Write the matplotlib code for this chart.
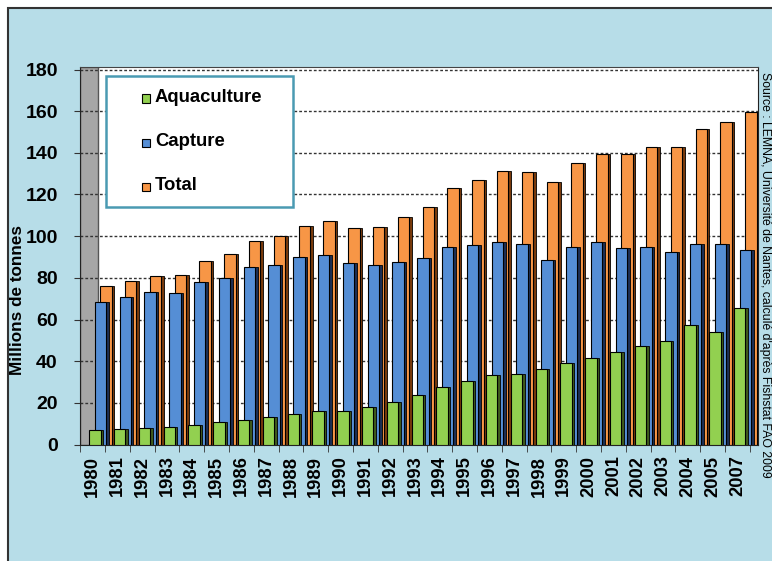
import matplotlib.pyplot as plt
from matplotlib.patches import Rectangle
import numpy as np

plt.rcParams['font.family'] = ['Liberation Sans', 'DejaVu Sans']

# Production mondiale (millions de tonnes)
annees = ['1980', '1981', '1982', '1983', '1984', '1985', '1986', '1987', '1988',
          '1989', '1990', '1991', '1992', '1993', '1994', '1995', '1996', '1997',
          '1998', '1999', '2000', '2001', '2002', '2003', '2004', '2005', '2007']
aquaculture = [7.0, 7.5, 7.8, 8.6, 9.4, 10.6, 11.7, 13.0, 14.7, 16.0, 16.3, 17.8,
               20.5, 24.0, 27.5, 30.7, 33.4, 33.8, 36.2, 39.2, 41.4, 44.2, 47.2,
               49.8, 57.4, 54.2, 65.4]
capture = [68.5, 70.9, 73.0, 72.5, 78.1, 80.0, 85.3, 86.2, 89.9, 90.9, 87.2, 86.1,
           87.7, 89.4, 95.0, 95.7, 97.1, 96.3, 88.8, 95.0, 97.1, 94.4, 94.6, 92.3,
           96.2, 96.2, 93.6]
total = [76.0, 78.7, 81.1, 81.6, 88.2, 91.4, 97.9, 100.3, 105.1, 107.2, 103.8, 104.2,
         109.0, 113.8, 123.0, 127.2, 131.2, 130.7, 125.8, 135.2, 139.4, 139.4, 142.6,
         142.9, 151.5, 154.9, 159.8]
yticks = [0, 20, 40, 60, 80, 100, 120, 140, 160, 180]

W, H = 772, 561
FOND = '#b7dde8'


def fx(px):
    return px / W


def fy(py):
    return 1 - py / H


fig = plt.figure(figsize=(W / 100, H / 100), dpi=100, facecolor='white')

# cadre bleu clair
fig.patches.append(Rectangle((fx(8), fy(H + 5)), fx(W), fy(8) - fy(H + 5),
                             transform=fig.transFigure, facecolor=FOND,
                             edgecolor='#333333', linewidth=1.5, zorder=-10))

ax = fig.add_axes([fx(80), fy(444.5), fx(758) - fx(80), fy(67) - fy(444.5)])
ax.set_facecolor('white')
ax.set_xlim(-0.827, 26.51)
ax.set_ylim(0, 181.2)

x = np.arange(len(annees))

# mur gauche gris
ax.add_patch(Rectangle((-0.827, 0), 0.706, 181.2, facecolor='#a6a6a6',
                       edgecolor='#555555', linewidth=1, zorder=1))

for v in yticks[1:]:
    ax.axhline(v, color='#333333', linewidth=1, linestyle=(0, (2, 1.5)), zorder=1.5)

largeur = 0.46
cote = 0.1
series = [
    (total, 0.22, '#f79646', '#7a3b0c', 'Total'),
    (capture, 0.0, '#558ed5', '#1c2f55', 'Capture'),
    (aquaculture, -0.23, '#92d050', '#3f5a1c', 'Aquaculture'),
]
z = 2
for valeurs, dx, couleur, sombre, nom in series:
    centres = x + dx
    ax.bar(centres + largeur / 2 + cote / 2, valeurs, width=cote, color=sombre,
           edgecolor='black', linewidth=0.6, zorder=z)
    ax.bar(centres, valeurs, width=largeur, color=couleur,
           edgecolor='black', linewidth=0.8, zorder=z + 0.5)
    z += 1

ax.set_yticks(yticks)
ax.set_yticklabels([str(v) for v in yticks], fontsize=14, fontweight='bold')
ax.tick_params(axis='y', direction='out', length=4, pad=12, color='#333333')

ax.set_xticks(x - 0.32)
ax.set_xticklabels(annees, rotation=90, fontsize=13.2, fontweight='bold')
ax.tick_params(axis='x', which='major', length=0, pad=8)
ax.set_xticks(np.arange(len(annees) + 1) - 0.82, minor=True)
ax.tick_params(axis='x', which='minor', direction='out', length=5, color='#333333')

for s in ['left', 'bottom', 'right']:
    ax.spines[s].set_color('#222222')
ax.spines['top'].set_color('#444444')
ax.spines['top'].set_linestyle((0, (2, 1)))

fig.text(fx(18), fy(300), 'Millions de tonnes', rotation=90, ha='center',
         va='center', fontsize=12.3, fontweight='bold')

fig.text(fx(765), fy(72), "Source : LEMNA, Université de Nantes, calculé d'après Fishstat FAO 2009",
         rotation=-90, ha='center', va='top', fontsize=8.8)

# légende
fig.patches.append(Rectangle((fx(106), fy(207)), fx(293) - fx(106), fy(76) - fy(207),
                             transform=fig.transFigure, facecolor='white',
                             edgecolor='#4a9ab2', linewidth=1.8, zorder=5))
for (valeurs, dx, couleur, sombre, nom), ly in zip(series[::-1], [98, 142, 186]):
    fig.patches.append(Rectangle((fx(142), fy(ly + 4.5)), fx(8), fy(0) - fy(8),
                                 transform=fig.transFigure, facecolor=couleur,
                                 edgecolor='black', linewidth=0.8, zorder=6))
    fig.text(fx(155), fy(ly), nom, ha='left', va='center', fontsize=13.3,
             fontweight='bold', zorder=6)

fig.savefig('out.png', dpi=100, facecolor=fig.get_facecolor())
